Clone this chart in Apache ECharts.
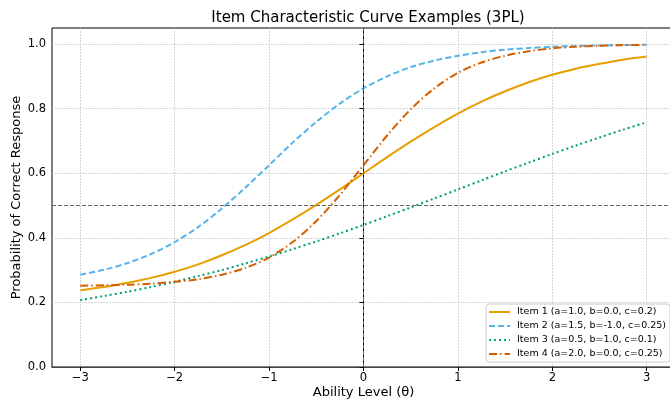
<!DOCTYPE html>
<html>
<head>
<meta charset="utf-8">
<script src="https://cdn.jsdelivr.net/npm/echarts@6/dist/echarts.min.js"></script>
<style>
  html, body { margin: 0; padding: 0; background: #fff; }
  #chart { width: 670px; height: 405px; }
</style>
</head>
<body>
<div id="chart"></div>
<script>
// ability levels (theta)
var theta = [-3, -2.75, -2.5, -2.25, -2, -1.75, -1.5, -1.25, -1, -0.75, -0.5, -0.25, 0,
             0.25, 0.5, 0.75, 1, 1.25, 1.5, 1.75, 2, 2.25, 2.5, 2.75, 3];

// probability of a correct response
var item1 = [0.238, 0.248, 0.261, 0.276, 0.295, 0.318, 0.346, 0.378, 0.415, 0.457, 0.502, 0.550, 0.600,
             0.650, 0.698, 0.743, 0.785, 0.822, 0.854, 0.882, 0.905, 0.924, 0.939, 0.952, 0.962];
var item2 = [0.286, 0.301, 0.322, 0.350, 0.387, 0.434, 0.491, 0.556, 0.625, 0.695, 0.759, 0.816, 0.863,
             0.900, 0.929, 0.949, 0.964, 0.975, 0.983, 0.988, 0.992, 0.994, 0.996, 0.997, 0.998];
var item3 = [0.207, 0.220, 0.233, 0.248, 0.264, 0.282, 0.300, 0.321, 0.342, 0.365, 0.389, 0.414, 0.440,
             0.467, 0.494, 0.522, 0.550, 0.578, 0.606, 0.633, 0.660, 0.686, 0.711, 0.735, 0.758];
var item4 = [0.252, 0.253, 0.255, 0.258, 0.264, 0.272, 0.286, 0.307, 0.339, 0.387, 0.452, 0.533, 0.625,
             0.717, 0.798, 0.863, 0.911, 0.943, 0.964, 0.978, 0.987, 0.992, 0.995, 0.997, 0.998];

var names = [
    'Item 1 (a=1.0, b=0.0, c=0.2)',
    'Item 2 (a=1.5, b=-1.0, c=0.25)',
    'Item 3 (a=0.5, b=1.0, c=0.1)',
    'Item 4 (a=2.0, b=0.0, c=0.25)'
];
var xTicks = [-3, -2, -1, 0, 1, 2, 3];
var yTicks = [0, 0.2, 0.4, 0.6, 0.8, 1.0];

var font = 'DejaVu Sans';

function pairs(ys) {
    return theta.map(function (t, i) { return [t, ys[i]]; });
}

function curve(name, ys, color, dash) {
    return {
        name: name,
        type: 'line',
        data: pairs(ys),
        smooth: 0.3,
        showSymbol: false,
        symbol: 'none',
        lineStyle: { color: color, width: 2, type: dash },
        itemStyle: { color: color }
    };
}

var series = [
    curve(names[0], item1, '#E69F00', 'solid'),
    curve(names[1], item2, '#56B4E9', [6, 3]),
    curve(names[2], item3, '#009E73', [2, 3]),
    curve(names[3], item4, '#D55E00', [8, 3, 1.5, 3])
];
// reference lines at theta = 0 and P = 0.5
series[0].markLine = {
    silent: true,
    symbol: 'none',
    label: { show: false },
    lineStyle: { color: '#666', width: 1, type: [4, 2] },
    data: [{ xAxis: 0 }, { yAxis: 0.5 }]
};

var chart = echarts.init(document.getElementById('chart'));
chart.setOption({
    animation: false,
    backgroundColor: '#fff',
    textStyle: { fontFamily: font },
    title: {
        text: 'Item Characteristic Curve Examples (3PL)',
        left: 363,
        top: 6,
        textAlign: 'center',
        textStyle: { fontFamily: font, fontSize: 15, fontWeight: 'normal', color: '#000' }
    },
    grid: {
        left: 52, right: -5, top: 28, bottom: 38,
        containLabel: false,
        outerBoundsMode: 'none',
        show: true, borderColor: '#000', borderWidth: 1
    },
    xAxis: {
        type: 'value',
        min: -3.3,
        max: 3.3,
        name: 'Ability Level (θ)',
        nameLocation: 'middle',
        nameGap: 19,
        nameMoveOverlap: false,
        nameTextStyle: { fontFamily: font, fontSize: 13, color: '#000' },
        axisLine: { show: true, onZero: false, lineStyle: { color: '#444', width: 1.2 } },
        axisTick: { show: true, customValues: xTicks, length: 4, lineStyle: { color: '#000' } },
        axisLabel: {
            customValues: xTicks, margin: 5, fontSize: 11.5, color: '#000', fontFamily: font,
            formatter: function (v) { return v < 0 ? '\u2212' + Math.abs(v) : String(v); }
        },
        splitLine: { show: true, lineStyle: { color: '#ccc', width: 0.8, type: [2, 1] } }
    },
    yAxis: {
        type: 'value',
        min: 0,
        max: 1.05,
        name: 'Probability of Correct Response',
        nameLocation: 'middle',
        nameGap: 29,
        nameMoveOverlap: false,
        nameTextStyle: { fontFamily: font, fontSize: 13, color: '#000' },
        axisLine: { show: true, lineStyle: { color: '#000', width: 1 } },
        axisTick: { show: true, customValues: yTicks, length: 4, lineStyle: { color: '#000' } },
        axisLabel: {
            customValues: yTicks, margin: 6, fontSize: 11.5, color: '#000', fontFamily: font,
            formatter: function (v) { return v.toFixed(1); }
        },
        splitLine: { show: true, lineStyle: { color: '#ccc', width: 0.8, type: [2, 1] } }
    },
    legend: {
        orient: 'vertical',
        right: 0,
        bottom: 43,
        data: names,
        itemWidth: 21,
        itemHeight: 10,
        itemGap: 4,
        padding: [3, 4, 3, 2],
        backgroundColor: '#fff',
        borderColor: '#ccc',
        borderWidth: 1,
        borderRadius: 3,
        itemStyle: { opacity: 0 },
        textStyle: { fontFamily: font, fontSize: 9.5, color: '#000', padding: [0, 0, 0, 2] }
    },
    series: series
});
</script>
</body>
</html>
